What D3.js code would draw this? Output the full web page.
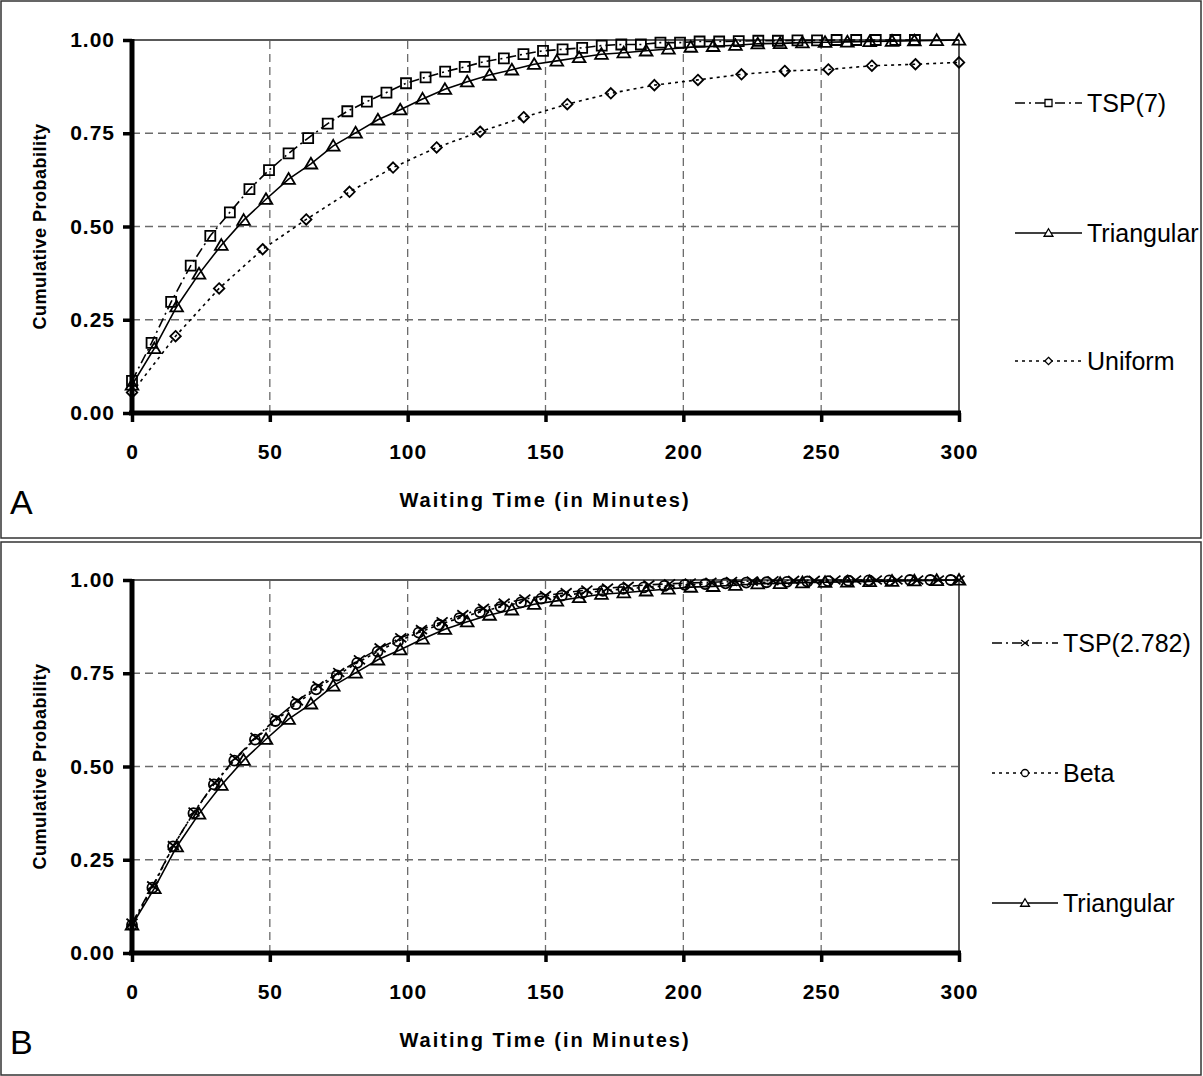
<!DOCTYPE html>
<html>
<head>
<meta charset="utf-8">
<script src="https://cdn.jsdelivr.net/npm/d3@7"></script>
<style>
  body { margin: 0; background: #fff; }
  svg { display: block; }
  text { font-family: "Liberation Sans", Arial, sans-serif; fill: #000; }
</style>
</head>
<body>
<svg id="chart" width="1203" height="1076"></svg>
<script>
// ---------- data ----------
const xTicks = [0, 50, 100, 150, 200, 250, 300];
const yTicks = [0, 0.25, 0.5, 0.75, 1.0];
const xTitle = "Waiting Time (in Minutes)";
const yTitle = "Cumulative Probability";

// Panel A: TSP(7)
const tsp7X = [0,7.1,14.2,21.3,28.4,35.5,42.6,49.7,56.8,63.9,71.0,78.1,85.2,92.3,99.4,106.5,113.6,120.7,127.8,134.9,142.0,149.1,156.2,163.3,170.4,177.5,184.6,191.7,198.8,205.9,213.0,220.1,227.2,234.3,241.4,248.5,255.6,262.7,269.8,276.9,284.0];
const tsp7Y = [0.086,0.188,0.298,0.395,0.475,0.538,0.600,0.651,0.696,0.737,0.776,0.809,0.835,0.859,0.884,0.900,0.915,0.928,0.942,0.951,0.962,0.971,0.975,0.979,0.985,0.988,0.988,0.993,0.993,0.996,0.996,0.997,0.998,0.998,0.999,0.999,1.0,1.0,1.0,1.0,1.0];

// Triangular (both panels)
const triX = [0,8.1,16.2,24.3,32.4,40.5,48.6,56.8,64.9,73.0,81.1,89.2,97.3,105.4,113.5,121.6,129.7,137.8,145.9,154.1,162.2,170.3,178.4,186.5,194.6,202.7,210.8,218.9,227.0,235.1,243.2,251.4,259.5,267.6,275.7,283.8,291.9,300.0];
const triY = [0.075,0.173,0.285,0.373,0.450,0.517,0.573,0.627,0.668,0.716,0.751,0.786,0.813,0.842,0.868,0.888,0.906,0.920,0.935,0.944,0.953,0.962,0.966,0.971,0.976,0.981,0.983,0.986,0.990,0.991,0.993,0.994,0.995,0.996,0.997,0.998,0.999,1.0];

// Uniform
const uniX = [0,15.8,31.6,47.4,63.2,78.9,94.7,110.5,126.3,142.1,157.9,173.7,189.5,205.3,221.1,236.8,252.6,268.4,284.2,300.0];
const uniY = [0.055,0.206,0.334,0.439,0.519,0.593,0.658,0.712,0.754,0.793,0.828,0.857,0.879,0.893,0.908,0.917,0.921,0.931,0.935,0.940];

// Panel B: TSP(2.782)
const tspBX = [0,7.5,15,22.5,30,37.5,45,52.5,60,67.5,75,82.5,90,97.5,105,112.5,120,127.5,135,142.5,150,157.5,165,172.5,180,187.5,195,202.5,210,217.5,225,232.5,240,247.5,255,262.5,270,277.5,285,292.5,300];
const tspBY = [0.080,0.180,0.288,0.378,0.456,0.522,0.578,0.630,0.676,0.716,0.752,0.786,0.818,0.845,0.867,0.888,0.907,0.924,0.938,0.949,0.958,0.966,0.973,0.978,0.983,0.987,0.990,0.992,0.994,0.996,0.997,0.998,0.999,0.999,1.0,1.0,1.0,1.0,1.0,1.0,1.0];

// Beta
const betaX = [0,7.4,14.9,22.3,29.7,37.1,44.6,52.0,59.4,66.8,74.3,81.7,89.1,96.5,104.0,111.4,118.8,126.2,133.7,141.1,148.5,155.9,163.4,170.8,178.2,185.6,193.1,200.5,207.9,215.3,222.8,230.2,237.6,245.0,252.5,259.9,267.3,274.7,282.2,289.6,297.0];
const betaY = [0.075,0.175,0.286,0.375,0.452,0.516,0.572,0.622,0.667,0.707,0.744,0.778,0.808,0.836,0.859,0.880,0.898,0.914,0.928,0.940,0.950,0.958,0.965,0.971,0.976,0.980,0.984,0.987,0.989,0.991,0.993,0.994,0.995,0.996,0.997,0.998,0.999,0.999,1.0,1.0,1.0];

// ---------- styles ----------
const styles = {
  tsp:  { dash: "10,4,2,4", width: 1.6 },
  solid:{ dash: null, width: 1.6 },
  dot:  { dash: "3,4", width: 1.6 }
};

function markerPath(type, s) {
  switch (type) {
    case "square": return `M${-s},${-s}H${s}V${s}H${-s}Z`;
    case "triangle": return `M0,${-s*1.1}L${s*1.15},${s*0.85}L${-s*1.15},${s*0.85}Z`;
    case "diamond": return `M0,${-s*1.05}L${s*1.05},0L0,${s*1.05}L${-s*1.05},0Z`;
    case "circle": return `M${s},0A${s},${s} 0 1,1 ${-s},0A${s},${s} 0 1,1 ${s},0Z`;
    case "cross": return `M${-s},${-s*0.8}L${s},${s*0.8}M${-s},${s*0.8}L${s},${-s*0.8}`;
  }
}

const svg = d3.select("#chart");
const FONT = '"Liberation Sans", Arial, sans-serif';

function drawPanel(cfg) {
  const g = svg.append("g");
  // outer frame
  g.append("rect")
    .attr("x", 1).attr("y", cfg.frameTop)
    .attr("width", 1200).attr("height", cfg.frameH)
    .attr("fill", "none").attr("stroke", "#333").attr("stroke-width", 1.5);

  const x = d3.scaleLinear().domain([0, 300]).range([132, 959]);
  const y = d3.scaleLinear().domain([0, 1]).range([cfg.y0, cfg.y1]);

  // grid
  g.append("g").selectAll("line").data(xTicks.filter(v => v > 0 && v < 300)).join("line")
    .attr("x1", d => x(d)).attr("x2", d => x(d))
    .attr("y1", y(0)).attr("y2", y(1))
    .attr("stroke", "#6b6b6b").attr("stroke-width", 1.3).attr("stroke-dasharray", "8,5");
  g.append("g").selectAll("line").data(yTicks.filter(v => v > 0 && v < 1)).join("line")
    .attr("x1", x(0)).attr("x2", x(300))
    .attr("y1", d => y(d)).attr("y2", d => y(d))
    .attr("stroke", "#6b6b6b").attr("stroke-width", 1.3).attr("stroke-dasharray", "8,5");

  // top and right border
  g.append("line").attr("x1", x(0)).attr("x2", x(300)).attr("y1", y(1)).attr("y2", y(1))
    .attr("stroke", "#222").attr("stroke-width", 1.5);
  g.append("line").attr("x1", x(300)).attr("x2", x(300)).attr("y1", y(1)).attr("y2", y(0))
    .attr("stroke", "#555").attr("stroke-width", 2);

  // series
  cfg.series.forEach(s => {
    const pts = s.xs.map((v, i) => [v, s.ys[i]]);
    const line = d3.line().x(d => x(d[0])).y(d => y(d[1]));
    g.append("path").datum(pts)
      .attr("d", line)
      .attr("fill", "none").attr("stroke", "#000")
      .attr("stroke-width", s.style.width)
      .attr("stroke-dasharray", s.style.dash);
    g.append("g").selectAll("path").data(pts).join("path")
      .attr("transform", d => `translate(${x(d[0])},${y(d[1])})`)
      .attr("d", markerPath(s.marker, s.msize))
      .attr("fill", "none").attr("stroke", "#000").attr("stroke-width", 1.8);
  });

  // axes
  const ax = g.append("g").attr("transform", `translate(0,${y(0)})`)
    .call(d3.axisBottom(x).tickValues(xTicks).tickSize(9).tickPadding(22).tickSizeOuter(0));
  ax.select(".domain").attr("stroke", "#000").attr("stroke-width", 5).attr("d", `M${x(0)-3},0H${x(300)+2}`);
  ax.selectAll(".tick line").attr("stroke", "#000").attr("stroke-width", 3.5);
  ax.selectAll(".tick text")
    .style("font-family", FONT)
    .style("font-weight", "bold").style("font-size", "21px").style("letter-spacing", "1px");

  const ay = g.append("g").attr("transform", `translate(${x(0)},0)`)
    .call(d3.axisLeft(y).tickValues(yTicks).tickFormat(d3.format(".2f")).tickSize(9).tickPadding(8).tickSizeOuter(0));
  ay.select(".domain").attr("stroke", "#000").attr("stroke-width", 5).attr("d", `M0,${y(1)-1}V${y(0)+2}`);
  ay.selectAll(".tick line").attr("stroke", "#000").attr("stroke-width", 3.5);
  ay.selectAll(".tick text")
    .style("font-family", FONT)
    .style("font-weight", "bold").style("font-size", "21px").style("letter-spacing", "1px");

  // titles
  g.append("text").attr("x", 545).attr("y", cfg.y0 + 94)
    .attr("text-anchor", "middle")
    .style("font-weight", "bold").style("font-size", "20px").style("letter-spacing", "2px")
    .text(xTitle);
  g.append("text")
    .attr("transform", `translate(46,${(cfg.y0 + cfg.y1) / 2}) rotate(-90)`)
    .attr("text-anchor", "middle")
    .style("font-weight", "bold").style("font-size", "18px").style("letter-spacing", "0.5px")
    .text(yTitle);

  // panel letter
  g.append("text").attr("x", 10).attr("y", cfg.y0 + 101)
    .style("font-size", "34px").text(cfg.letter);

  // legend
  cfg.series.forEach((s, i) => {
    const ly = cfg.legY[i];
    const lg = g.append("g");
    lg.append("line").attr("x1", cfg.legX0).attr("x2", cfg.legX1).attr("y1", ly).attr("y2", ly)
      .attr("stroke", "#000").attr("stroke-width", 1.5).attr("stroke-dasharray", s.style.dash);
    lg.append("path").attr("transform", `translate(${(cfg.legX0 + cfg.legX1) / 2},${ly})`)
      .attr("d", markerPath(s.marker, s.msize * 0.7))
      .attr("fill", "#fff").attr("stroke", "#000").attr("stroke-width", 1.3);
    lg.append("text").attr("x", cfg.legX1 + 5).attr("y", ly).attr("dy", "0.35em")
      .style("font-size", "25px").text(s.name);
  });
}

drawPanel({
  letter: "A", frameTop: 1, frameH: 537, y0: 413, y1: 40,
  legX0: 1015, legX1: 1082, legY: [103, 233, 361],
  series: [
    { name: "TSP(7)", xs: tsp7X, ys: tsp7Y, style: styles.tsp, marker: "square", msize: 5 },
    { name: "Triangular", xs: triX, ys: triY, style: styles.solid, marker: "triangle", msize: 5.5 },
    { name: "Uniform", xs: uniX, ys: uniY, style: styles.dot, marker: "diamond", msize: 5 }
  ]
});

drawPanel({
  letter: "B", frameTop: 542, frameH: 533, y0: 953, y1: 580,
  legX0: 992, legX1: 1058, legY: [643, 773, 903],
  series: [
    { name: "TSP(2.782)", xs: tspBX, ys: tspBY, style: styles.tsp, marker: "cross", msize: 5.5 },
    { name: "Beta", xs: betaX, ys: betaY, style: styles.dot, marker: "circle", msize: 5 },
    { name: "Triangular", xs: triX, ys: triY, style: styles.solid, marker: "triangle", msize: 5.5 }
  ]
});
</script>
</body>
</html>
